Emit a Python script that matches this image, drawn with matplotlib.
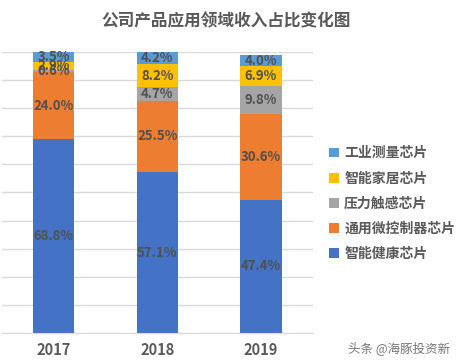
import matplotlib
matplotlib.use("Agg")
import matplotlib.pyplot as plt
import numpy as np

plt.rcParams['font.family'] = ['Noto Sans CJK SC', 'DejaVu Sans']

years = ['2017', '2018', '2019']
series = ['智能健康芯片', '通用微控制器芯片', '压力触感芯片', '智能家居芯片', '工业测量芯片']
health = [68.8, 57.1, 47.4]
mcu = [24.0, 25.5, 30.6]
pressure = [0.6, 4.7, 9.8]
home = [2.9, 8.2, 6.9]
industry = [3.5, 4.2, 4.0]
colors = ['#4472C4', '#ED7D31', '#A5A5A5', '#FFC000', '#5B9BD5']

fig = plt.figure(figsize=(4.62, 3.63), dpi=100)
ax = fig.add_axes([0.004, 0.082, 0.673, 0.776])

x = np.arange(len(years))
bottom = np.zeros(len(years))
handles = []
for name, vals, c in zip(series, [health, mcu, pressure, home, industry], colors):
    vals = np.array(vals)
    b = ax.bar(x, vals, 0.4, bottom=bottom, color=c, label=name, zorder=2)
    handles.append(b)
    for xi, v, bt in zip(x, vals, bottom):
        ax.text(xi, bt + v / 2, '%.1f%%' % v, ha='center', va='center',
                fontsize=9.5, fontweight='bold', color='#505050', zorder=3)
    bottom += vals

ax.set_xlim(-0.5, 2.5)
ax.set_ylim(0, 100)
ax.set_yticks(np.arange(0, 101, 10))
ax.yaxis.grid(True, color='#D9D9D9', lw=1, zorder=0)
ax.tick_params(left=False, labelleft=False, bottom=False)
ax.set_xticks(x)
ax.set_xticklabels(years, fontsize=10.5, fontweight='bold', color='#595959')
ax.tick_params(axis='x', pad=3)
for s in ['top', 'right', 'left']:
    ax.spines[s].set_visible(False)
ax.spines['bottom'].set_color('#D9D9D9')

fig.text(0.49, 0.94, '公司产品应用领域收入占比变化图', ha='center', va='center',
         fontsize=12, fontweight='bold', color='#595959')

fig.legend(handles[::-1], series[::-1], loc='upper left', bbox_to_anchor=(0.7, 0.612),
           frameon=False, prop={'size': 10, 'weight': 'bold'}, labelcolor='#595959',
           handlelength=0.7, handleheight=0.7, handletextpad=0.4, labelspacing=0.8,
           borderaxespad=0)

fig.text(0.975, 0.04, '头条 @海豚投资新', ha='right', va='center', fontsize=9, color='#777777')

fig.savefig('out.png', dpi=100)
